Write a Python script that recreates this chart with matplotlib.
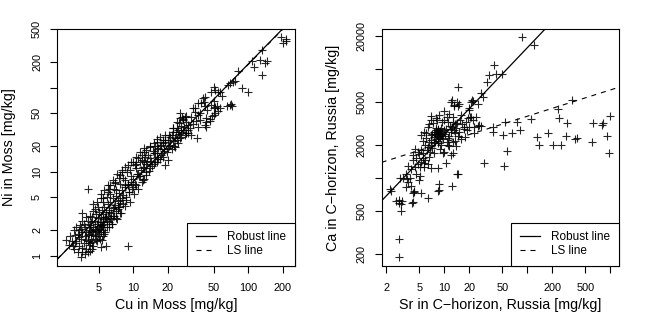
import matplotlib
matplotlib.use("Agg")
import matplotlib.pyplot as plt

plt.rcParams['font.family'] = ['Liberation Sans', 'DejaVu Sans']

# ---- left panel: Cu vs Ni in moss (mg/kg) ----
moss_pts = [
    (192, 405), (211, 378), (201, 345), (213, 365),
    (131, 281), (108, 208), (112, 178), (127, 213), (145, 208), (140, 199), (131, 142),
    (81, 159), (88, 98), (100, 90), (69, 115), (74, 118), (67, 108), (76, 122),
    (69, 62), (71, 64), (65, 61), (72, 60),
    (50, 101), (55, 90), (47, 90), (51, 95), (57, 90), (59, 79),
    (42, 78), (41, 68), (50, 70), (40.5, 75), (39, 65),
    (51, 59), (55, 53), (50, 47), (46.5, 43), (43, 39), (43, 34), (53, 60), (57, 57), (50, 57),
    (42, 60), (51, 50), (48, 45.5), (43, 43.6), (46.5, 40), (42, 36.3), (38, 41.6), (36.7, 47.6),
    (33, 57), (36.7, 65), (25.5, 50), (28, 45), (34.4, 57), (34.4, 52), (29, 45.6), (27.3, 41.6),
    (30, 36.3), (25.5, 43.6), (26.4, 45), (29, 39), (23.9, 39), (22.3, 33), (21.6, 27.3),
    (29, 28.6), (30, 31.4), (36.7, 34), (24.6, 31.4), (23, 19.9), (25.5, 25), (35.5, 25), (32, 27.3),
    (17.1, 26), (18.2, 23.8), (16, 22.7), (20, 23.8), (14, 19.9), (15.4, 16.6), (18.2, 15.1),
    (12.6, 15.1), (11.4, 13.2), (10.3, 12), (9.4, 10.5), (12.2, 11.5), (7.7, 9.1), (6.9, 7.6),
    (8.5, 6.9), (12.2, 8.0), (20, 13.8), (18.9, 12), (17.7, 16.6), (16, 13.2), (12.3, 8.1),
    (10.4, 7.1), (9.1, 5.8), (7.2, 9.4), (6.95, 7.4), (6.1, 6.2), (7.5, 3.8), (7.7, 3.2),
    (6.5, 2.4), (4.47, 4.1), (3.58, 3.2), (3.46, 2.3), (3.4, 2.0),
    (4.06, 6.2), (9.05, 1.30), (3.5, 0.96), (2.61, 1.54), (2.83, 1.72), (3.13, 1.40),
    (3.02, 1.19), (5.8, 1.30), (5.2, 1.26), (4.2, 1.15),
    (8.2, 8.5), (8.8, 9.8), (9.6, 9.0), (10.5, 11.0), (11.0, 9.5), (11.8, 13.8), (12.5, 17.0),
    (13.0, 12.5), (13.5, 16.0), (14.2, 13.5), (14.8, 17.8), (15.5, 20.5), (16.5, 19.0),
    (17.5, 21.0), (19.0, 22.5), (19.5, 17.0), (21.0, 26.0), (22.0, 23.0), (23.5, 29.5),
    (24.5, 22.0), (26.0, 30.0), (27.5, 34.0), (28.5, 29.0), (31.0, 33.0), (33.0, 37.0),
    (31.5, 45.0), (35.0, 40.0), (38.0, 50.0), (44.0, 55.0), (47.0, 62.0),
    (9.0, 7.2), (10.0, 6.5), (11.5, 9.0), (13.0, 10.0), (14.0, 11.0), (15.0, 12.2), (16.0, 15.0),
    (17.0, 14.0), (18.5, 18.5), (20.5, 20.0), (21.5, 18.5), (22.5, 20.0), (24.0, 24.0),
    (26.0, 26.0), (28.0, 27.0), (30.0, 29.0),
    (3.2, 1.5), (3.3, 1.8), (3.4, 1.3), (3.5, 1.6), (3.5, 2.1), (3.6, 1.9), (3.7, 1.4), (3.7, 2.4),
    (3.8, 1.7), (3.8, 2.2), (3.9, 1.2), (3.9, 1.9), (4.0, 1.5), (4.0, 2.6), (4.1, 1.8), (4.1, 2.2),
    (4.2, 1.4), (4.2, 2.0), (4.3, 1.6), (4.3, 2.5), (4.4, 1.9), (4.4, 2.9), (4.5, 1.3), (4.5, 2.2),
    (4.6, 1.7), (4.6, 2.6), (4.7, 2.0), (4.7, 3.1), (4.8, 1.5), (4.8, 2.4), (4.9, 1.8), (4.9, 2.8),
    (5.0, 2.1), (5.0, 3.3), (5.1, 1.6), (5.1, 2.5), (5.2, 1.9), (5.2, 2.9), (5.3, 2.3), (5.3, 3.5),
    (5.4, 1.7), (5.4, 2.7), (5.5, 2.0), (5.5, 3.1), (5.6, 2.4), (5.6, 3.8), (5.7, 1.9), (5.8, 2.8),
    (5.8, 3.3), (5.9, 2.2), (6.0, 3.0), (6.0, 4.1), (6.1, 2.5), (6.2, 3.5), (6.3, 2.8), (6.3, 4.4),
    (6.4, 3.2), (6.5, 2.4), (6.6, 3.7), (6.7, 4.8), (6.8, 3.0), (6.9, 4.0), (7.0, 3.4), (7.1, 5.2),
    (7.2, 2.7), (7.3, 4.5), (7.4, 3.8), (7.5, 5.6), (7.6, 4.2), (7.8, 3.2), (7.9, 6.0), (8.0, 4.8),
    (8.2, 5.3), (8.4, 3.9), (8.5, 6.5), (8.7, 5.0), (8.9, 7.0), (9.1, 5.8), (9.3, 4.4), (9.5, 7.6),
    (9.7, 6.3), (10.0, 8.3), (10.2, 5.5), (10.5, 7.0), (10.8, 9.5), (11.0, 6.3), (11.3, 8.8),
    (11.6, 10.5), (12.0, 7.6), (12.4, 11.2), (12.8, 9.2), (13.2, 13.0), (13.6, 10.2), (14.0, 14.5),
    (14.5, 11.6), (15.0, 16.5), (15.5, 13.0), (16.0, 18.5), (16.5, 14.2), (17.0, 20.5),
    (17.5, 16.0), (18.0, 22.0), (18.5, 17.5), (19.0, 24.0), (20.0, 19.0), (20.5, 27.0),
    (21.0, 21.0), (22.0, 30.0), (23.0, 25.0), (24.0, 33.0), (25.0, 28.0), (26.0, 35.0), (27.0, 31.0),
    (3.4, 1.65), (3.6, 1.25), (3.9, 1.55), (4.0, 1.75), (4.1, 1.35), (4.2, 2.35), (4.3, 1.95),
    (4.4, 1.45), (4.5, 1.75), (4.6, 2.05), (4.7, 1.55), (4.8, 1.95), (4.9, 2.25), (5.0, 1.7),
    (5.1, 2.05), (5.2, 2.35), (5.3, 1.55), (5.4, 2.2), (5.5, 2.55), (5.6, 1.8), (5.7, 2.9),
    (5.9, 2.6), (6.1, 3.3), (6.2, 2.2), (6.4, 2.7), (6.6, 3.0), (6.8, 3.8), (7.0, 2.8), (7.3, 3.6),
    (7.7, 4.6), (8.1, 4.1), (8.6, 4.6), (3.2, 2.2), (3.6, 2.6), (4.2, 3.0), (4.5, 3.4), (4.9, 3.8),
    (5.4, 4.4), (5.9, 5.0), (6.3, 5.4), (3.9, 2.9), (4.6, 3.6), (5.2, 4.8), (6.0, 5.8), (5.5, 4.9),
    (6.8, 6.3), (7.6, 7.2),
    (2.9, 1.5), (3.0, 1.3), (3.1, 1.75), (2.75, 1.35), (3.05, 2.0), (3.3, 1.1), (3.6, 1.1),
    (3.8, 1.05), (4.4, 1.2), (4.0, 1.1),
    (5.2, 5.5), (6.3, 6.9), (7.97, 10.5), (4.85, 4.4), (5.6, 6.0), (6.7, 8.0), (8.5, 11.5),
    (9.5, 13.0), (10.5, 15.0), (11.5, 17.0), (12.5, 19.0),
    (9.0, 12.0), (10.0, 13.0), (11.0, 14.5), (12.0, 16.0), (13.0, 18.0), (14.0, 20.5),
    (15.0, 22.0), (8.0, 10.0), (7.5, 8.5), (10.5, 12.5), (12.5, 13.5), (16.0, 24.5),
    (19.0, 27.0), (22.0, 33.0), (25.0, 38.0), (27.0, 42.0), (6.0, 7.0), (7.0, 6.0), (8.5, 8.0),
]
cu_moss = [p[0] for p in moss_pts]
ni_moss = [p[1] for p in moss_pts]
# log10 fits: intercept, slope
moss_robust = (-0.517, 1.40)
moss_ls = (-0.512, 1.395)

# ---- right panel: Sr vs Ca in C-horizon, Russia (mg/kg) ----
chor_pts = [
    (87, 19500), (121, 16600), (40, 10900), (41.6, 9000), (49, 9100), (34.8, 8800), (32.4, 7600),
    (14.8, 6800), (27.7, 6000), (29, 5570), (21.4, 5200), (22.3, 5120), (12.4, 5200), (13.2, 4600),
    (14.8, 4600), (14.1, 5010), (20, 4210), (20.4, 3650), (22.3, 3400), (27.7, 3000), (22.7, 2600),
    (25.7, 3000), (38.9, 2950), (38.9, 2660), (54, 3290), (74.6, 3290), (51.5, 2480), (66, 2600),
    (81, 2750), (110, 3460), (232, 4270), (242, 3530), (303, 3180), (348, 5200), (130, 2360),
    (138, 2010), (179, 2570), (206, 2010), (255, 2010), (292, 2430), (376, 2260), (394, 2310),
    (614, 3210), (787, 3060), (808, 3210), (597, 2150), (906, 2430), (990, 3700), (957, 1710),
    (57, 1770), (53, 1300), (30, 1380), (14.1, 1090), (12.6, 1710), (10.5, 1360), (8.46, 1230),
    (8.7, 890), (8.46, 765), (12.3, 845), (6.3, 650), (5.3, 730), (4.36, 765), (4.23, 724),
    (4.16, 598), (3.68, 925), (3.43, 832), (3.2, 994), (3.07, 615), (2.87, 628), (2.62, 615),
    (2.87, 594), (3.0, 500), (2.87, 275), (2.85, 188), (2.25, 788), (2.92, 994), (5.1, 1050),
    (5.0, 955), (3.86, 994),
    (12.0, 5000), (13.2, 4680), (15.2, 4730), (21, 5000), (20, 4360), (25.3, 4740), (19.2, 3530),
    (21, 3650), (24.1, 3650), (26.4, 3060), (22.9, 2950), (20, 2950), (12.6, 3650), (11, 3290),
    (10, 3400), (8.7, 3780), (7.95, 3570), (6.9, 3400), (6.3, 2950), (5.7, 2660), (5.2, 2480),
    (6.0, 2310), (6.9, 2480), (7.6, 2660), (8.3, 2750), (9.1, 2480), (11, 2310), (12.6, 2150),
    (11, 2010), (9.1, 2010), (7.6, 2080), (6.3, 1940), (5.2, 1810), (4.78, 1740), (4.16, 1620),
    (4.55, 1520), (5.5, 1520), (6.6, 1570), (7.6, 1680), (9.6, 1680), (12, 1620), (17.4, 2950),
    (7.5, 2400), (7.8, 2550), (8.0, 2300), (8.2, 2650), (8.4, 2450), (8.5, 2800), (8.6, 2550),
    (8.8, 2350), (8.9, 2700), (9.0, 2600), (9.2, 2900), (9.4, 2450), (7.9, 2750), (8.1, 2500),
    (8.3, 2200), (8.7, 2600), (9.3, 2650), (8.0, 2900), (7.2, 2550), (7.0, 2250), (9.8, 2750),
    (10.2, 2550), (9.6, 2300), (8.4, 2100), (7.7, 2150), (10.5, 2800),
    (12.0, 2800), (12.5, 2950), (13.0, 2750), (13.3, 3100), (12.8, 3250), (13.8, 2900),
    (11.8, 3000), (12.2, 2650), (14.2, 3200), (13.5, 2600),
    (6.5, 3100), (7.3, 3200), (9.5, 3300), (10.8, 3600), (11.5, 3900), (9.8, 4100), (7.0, 3700),
    (8.1, 3400), (15.5, 3400), (16.5, 3100), (17.5, 2800), (15.0, 2650), (14.5, 2450), (16.0, 3800),
    (18.5, 3300), (19.0, 2750), (11.3, 2450), (10.7, 2150), (6.0, 2600), (5.5, 2200), (5.8, 2000),
    (6.6, 2150), (7.2, 1900), (8.9, 1850), (10.0, 1750), (6.8, 1750), (5.0, 1650), (5.6, 1700),
    (4.5, 1850), (4.2, 1450), (4.8, 1350), (5.3, 1400), (5.9, 1450), (6.4, 1350), (3.7, 1300),
    (4.0, 1200), (4.4, 1250), (3.5, 1100), (5.7, 1250), (4.6, 1100), (6.2, 1800), (6.9, 2000),
    (11.5, 1950), (13.5, 2200), (16.0, 2300), (18.0, 2400), (14.0, 1950),
    (3.6, 970), (2.28, 765), (5.15, 1250), (5.74, 1360), (6.9, 1230), (4.0, 845), (4.36, 748),
    (4.05, 594), (3.0, 578), (8.55, 775), (14.5, 1090),
]
sr_chor = [p[0] for p in chor_pts]
ca_chor = [p[1] for p in chor_pts]
chor_robust = (2.595, 0.80)
chor_ls = (3.085, 0.241)


def panel(ax, x, y, robust, ls, xlim, ylim, xticks, xlabs, yticks, ylabs, xlab, ylab):
    ax.set_xscale('log')
    ax.set_yscale('log')
    ax.plot(x, y, ls='none', marker='+', ms=6, mew=0.8, color='black', alpha=0.85)
    a, b = ls
    ax.axline((1, 10 ** a), (10, 10 ** (a + b)), color='black', lw=0.8, ls=(0, (4.5, 4.5)),
              label='LS line')
    a, b = robust
    ax.axline((1, 10 ** a), (10, 10 ** (a + b)), color='black', lw=0.9, label='Robust line')
    ax.set_xlim(xlim)
    ax.set_ylim(ylim)
    ax.set_xticks(xticks)
    ax.set_xticklabels(xlabs)
    ax.set_yticks(yticks)
    ax.set_yticklabels(ylabs, rotation=90, va='center')
    ax.minorticks_off()
    ax.tick_params(length=5, width=0.8, labelsize=7.8, pad=7)
    ax.tick_params(axis='y', pad=6)
    for s in ax.spines.values():
        s.set_linewidth(0.8)
    ax.set_xlabel(xlab, fontsize=10.3)
    ax.set_ylabel(ylab, fontsize=10.3)
    ax.xaxis.set_label_coords(0.5, -0.165)
    ax.xaxis.label.set_va('center')
    ax.yaxis.set_label_coords(-0.205, 0.5)
    ax.yaxis.label.set_va('center')
    h, l = ax.get_legend_handles_labels()
    leg = ax.legend(h[::-1], l[::-1], loc='lower right', borderaxespad=0, fancybox=False,
                    fontsize=8.5, handlelength=1.7, handletextpad=0.95, labelspacing=0.15,
                    borderpad=0.75, framealpha=1)
    leg.get_frame().set_edgecolor('black')
    leg.get_frame().set_linewidth(0.8)


fig = plt.figure(figsize=(6.48, 3.24), dpi=100)
ax1 = fig.add_axes([0.0884, 0.179, 0.3668, 0.7315])
ax2 = fig.add_axes([0.589, 0.179, 0.3662, 0.7315])

panel(ax1, cu_moss, ni_moss, moss_robust, moss_ls, (2.18, 254.7), (0.753, 501),
      [5, 10, 20, 50, 100, 200], ['5', '10', '20', '50', '100', '200'],
      [1, 2, 5, 10, 20, 50, 100, 200, 500], ['1', '2', '5', '10', '20', '50', '', '200', '500'],
      'Cu in Moss [mg/kg]', 'Ni in Moss [mg/kg]')
panel(ax2, sr_chor, ca_chor, chor_robust, chor_ls, (1.762, 1274), (156, 23300),
      [2, 5, 10, 20, 50, 100, 200, 500, 1000], ['2', '5', '10', '20', '50', '', '200', '500', ''],
      [200, 500, 1000, 2000, 5000, 10000, 20000], ['200', '500', '', '2000', '5000', '', '20000'],
      'Sr in C\u2212horizon, Russia [mg/kg]', 'Ca in C\u2212horizon, Russia [mg/kg]')

fig.savefig('out.png', dpi=100)
